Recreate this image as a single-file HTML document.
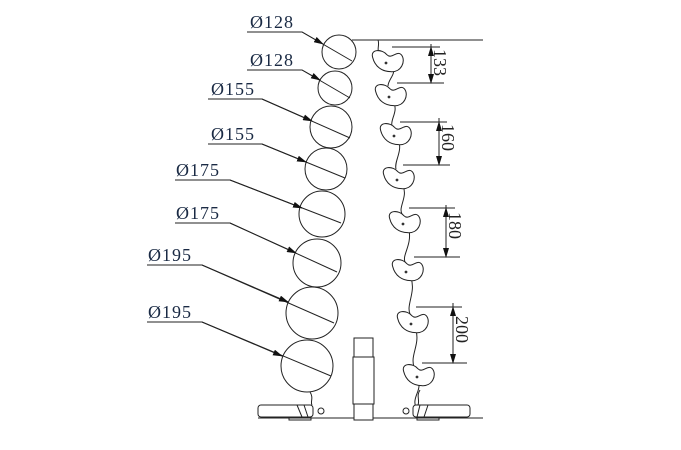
<!DOCTYPE html>
<html><head><style>html,body{margin:0;padding:0;background:#fff}svg{display:block}</style></head>
<body>
<svg width="681" height="450" viewBox="0 0 681 450" xmlns="http://www.w3.org/2000/svg" font-family="Liberation Serif, serif" fill="none" stroke="#222" stroke-width="1">
<defs>
<marker id="ar" markerWidth="10" markerHeight="6" refX="9" refY="3" orient="auto" markerUnits="userSpaceOnUse"><path d="M0,0 L10,3 L0,6 Z" fill="#111" stroke="none"/></marker>
<g id="hk"><g transform="scale(1.2)"><path d="M-12,-4 C-14,-11 -4,-11 0,-6 C4,-2 8,-10 12,-6 C16,-1 12,9 3,8 C-4,8 -10,4 -12,-4 Z" fill="#fff" stroke-width="0.85"/></g><circle cx="-1" cy="1" r="1.4" fill="#333" stroke="none"/></g>
</defs>
<!-- circles -->
<circle cx="339" cy="52" r="17"/><circle cx="335" cy="88" r="17"/>
<circle cx="331" cy="127" r="21"/><circle cx="326" cy="169" r="21"/>
<circle cx="322" cy="214" r="23"/><circle cx="317" cy="263" r="24"/>
<circle cx="312" cy="313" r="26"/><circle cx="307" cy="366" r="26"/>
<!-- leaders -->
<g>
<path d="M247,32 H302 L352,61" /><path d="M302,32 L323,44" marker-end="url(#ar)"/>
<path d="M247,70 H302 L350,98"/><path d="M302,70 L320,80" marker-end="url(#ar)"/>
<path d="M208,99 H262 L350,138"/><path d="M262,99 L312,121" marker-end="url(#ar)"/>
<path d="M208,144 H262 L345,178"/><path d="M262,144 L306,162" marker-end="url(#ar)"/>
<path d="M175,180 H230 L341,223"/><path d="M230,180 L302,208" marker-end="url(#ar)"/>
<path d="M175,223 H230 L337,272"/><path d="M230,223 L296,253" marker-end="url(#ar)"/>
<path d="M147,265 H202 L334,323"/><path d="M202,265 L288,302" marker-end="url(#ar)"/>
<path d="M147,322 H202 L331,376"/><path d="M202,322 L282,356" marker-end="url(#ar)"/>
</g>
<g fill="#1a2a44" stroke="none" font-size="18" letter-spacing="1">
<text x="250" y="28">Ø128</text><text x="250" y="66">Ø128</text>
<text x="211" y="95">Ø155</text><text x="211" y="140">Ø155</text>
<text x="176" y="176">Ø175</text><text x="176" y="219">Ø175</text>
<text x="148" y="261">Ø195</text><text x="148" y="318">Ø195</text>
</g>
<!-- top line -->
<path d="M352,40 H483"/>
<!-- chain -->
<path d="M378,40 C380,45 376,50 380,53 M393,68 C396,74 388,80 388,86 M394,103 C398,112 390,120 392,126 M399,142 C402,152 394,162 396,169 M403,186 C408,197 398,207 402,214 M409,230 C412,245 402,255 405,262 M411,278 C416,292 406,305 410,314 M416,330 C420,345 410,355 414,367 M419,384 C420,392 412,398 416,408"/>
<use href="#hk" x="387" y="62"/><use href="#hk" x="390" y="96"/>
<use href="#hk" x="395" y="135"/><use href="#hk" x="398" y="179"/>
<use href="#hk" x="404" y="223"/><use href="#hk" x="407" y="271"/>
<use href="#hk" x="412" y="323"/><use href="#hk" x="418" y="376"/>
<!-- dimensions -->
<path d="M392,47 H440 M397,83 H444 M431,44 V83" /><path d="M431,64 V47" marker-end="url(#ar)"/><path d="M431,66 V83" marker-end="url(#ar)"/>
<path d="M400,122 H447 M403,165 H450 M439,118 V165"/><path d="M439,140 V122" marker-end="url(#ar)"/><path d="M439,142 V165" marker-end="url(#ar)"/>
<path d="M409,208 H455 M414,257 H460 M446,205 V257"/><path d="M446,230 V208" marker-end="url(#ar)"/><path d="M446,232 V257" marker-end="url(#ar)"/>
<path d="M416,307 H462 M422,363 H467 M453,303 V363"/><path d="M453,334 V307" marker-end="url(#ar)"/><path d="M453,336 V363" marker-end="url(#ar)"/>
<g fill="#222" stroke="none" font-size="18">
<text transform="translate(434,49) rotate(90)">133</text>
<text transform="translate(442,124) rotate(90)">160</text>
<text transform="translate(449,212) rotate(90)">180</text>
<text transform="translate(456,316) rotate(90)">200</text>
</g>
<!-- base -->
<path d="M258,418 H483"/>
<rect x="258" y="405" width="55" height="12" rx="3" fill="#fff"/>
<path d="M297,405 L302,417 M304,405 L308,417"/>
<rect x="289" y="417" width="22" height="3"/>
<circle cx="321" cy="411" r="3"/>
<path d="M310,392 C314,398 310,402 312,405"/>
<rect x="413" y="405" width="57" height="12" rx="3" fill="#fff"/>
<path d="M420,405 L417,417 M428,405 L424,417"/>
<rect x="417" y="417" width="22" height="3"/>
<circle cx="406" cy="411" r="3"/>
<path d="M420,390 C416,396 420,400 418,405"/>
<rect x="354" y="338" width="19" height="82" fill="#fff"/>
<rect x="353" y="357" width="21" height="47" fill="#fff"/>
</svg>
</body></html>
